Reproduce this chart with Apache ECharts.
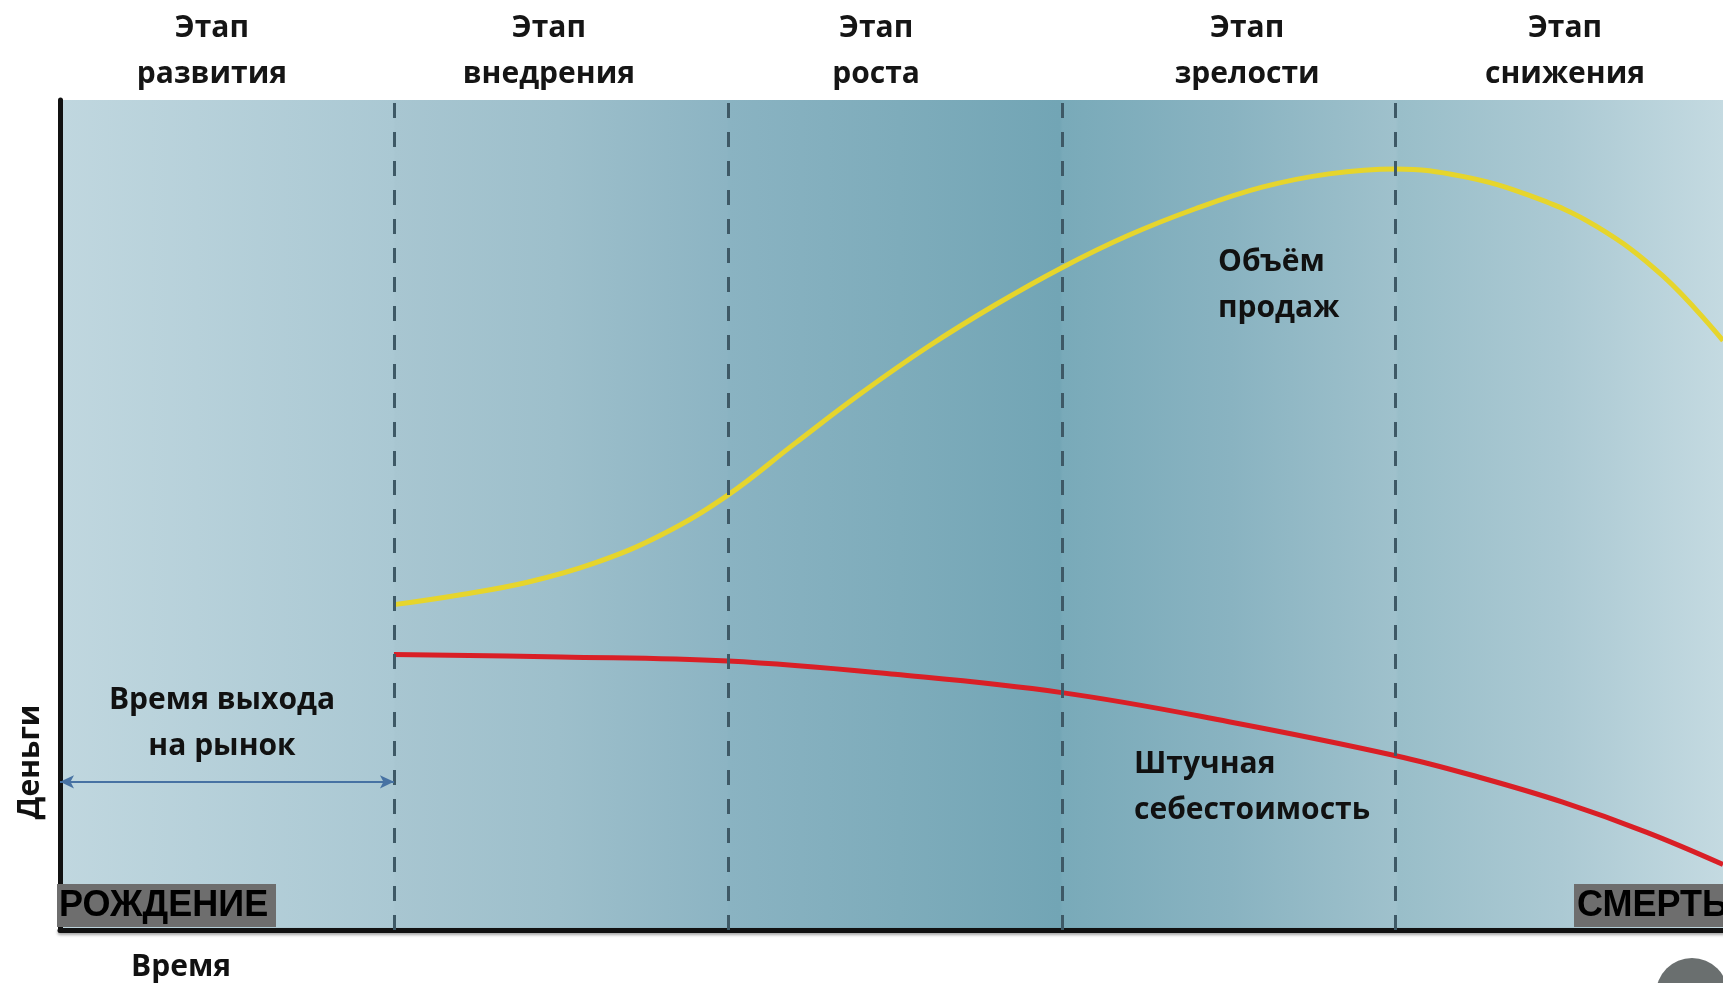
<!DOCTYPE html>
<html>
<head>
<meta charset="utf-8">
<style>
  html, body { margin: 0; padding: 0; background: #ffffff; }
  #chart { width: 1723px; height: 983px; }
</style>
<script src="https://cdn.jsdelivr.net/npm/echarts@6.0.0/dist/echarts.min.js"></script>
</head>
<body>
<div id="chart"></div>
<script>
// этапы жизненного цикла
const stageNames = ["Этап\nразвития", "Этап\nвнедрения", "Этап\nроста", "Этап\nзрелости", "Этап\nснижения"];
const stageBounds = [1, 2, 3, 4];

// объём продаж (жёлтая кривая)
const salesTime = [1.0, 1.2, 1.4, 1.6, 1.8, 2.0, 2.2, 2.4, 2.6, 2.8, 3.0, 3.2, 3.4, 3.6, 3.8, 4.0, 4.2, 4.4, 4.6, 4.8, 4.98];
const salesVolume = [39.2, 40.4, 41.9, 44.2, 47.6, 52.4, 58.6, 64.7, 70.3, 75.3, 79.8, 83.7, 86.9, 89.5, 91.1, 91.7, 90.8, 88.5, 84.8, 78.8, 71.0];

// штучная себестоимость (красная кривая)
const costTime = [1.0, 1.5, 2.0, 2.5, 3.0, 3.5, 4.0, 4.25, 4.5, 4.75, 4.98];
const unitCost = [33.2, 32.9, 32.4, 30.8, 28.6, 25.1, 21.0, 18.4, 15.4, 11.8, 7.9];

// время выхода на рынок
const launchSpan = [0, 1];
const launchLevel = 17.85;

const chart = echarts.init(document.getElementById("chart"));

// где стоят подписи этапов над графиком
const stageLabelAt = [0.455, 1.464, 2.444, 3.555, 4.507];
const FONT = "Open Sans";
const bold = (size) => "bold " + size + "px '" + FONT + "'";

const toPairs = (xs, ys) => xs.map((x, i) => [x, ys[i]]);

// фон: столбцы этапов с градиентом
const bg = new echarts.graphic.LinearGradient(0, 0, 1, 0, [
  { offset: 0, color: "#c0d7df" },
  { offset: 0.2008, color: "#aac8d3" },
  { offset: 0.2014, color: "#a8c6d1" },
  { offset: 0.3, color: "#9dbfcb" },
  { offset: 0.401, color: "#8cb4c3" },
  { offset: 0.402, color: "#8ab3c2" },
  { offset: 0.505, color: "#7eacbb" },
  { offset: 0.601, color: "#72a5b5" },
  { offset: 0.603, color: "#79aab9" },
  { offset: 0.704, color: "#89b3c1" },
  { offset: 0.803, color: "#9fc1cc" },
  { offset: 0.805, color: "#99bec9" },
  { offset: 0.902, color: "#abc9d3" },
  { offset: 1, color: "#c4dae1" }
]);

const option = {
  animation: false,
  backgroundColor: "#ffffff",
  grid: {
    left: 60,
    right: 0,
    top: 100,
    bottom: 53,
    show: true,
    borderWidth: 0,
    backgroundColor: bg
  },
  xAxis: [
    {
      type: "value",
      min: 0,
      max: 4.98,
      axisLine: {
        show: true,
        onZero: false,
        lineStyle: { color: "#111111", width: 5, shadowColor: "rgba(0,0,0,0.35)", shadowBlur: 3, shadowOffsetY: 2 }
      },
      axisTick: { show: false },
      axisLabel: { show: false },
      splitLine: { show: false }
    },
    {
      type: "value",
      position: "top",
      min: 0,
      max: 4.98,
      axisLine: { show: false },
      axisTick: { show: false },
      splitLine: { show: false },
      axisLabel: {
        customValues: stageLabelAt,
        formatter: function (v) {
          let best = 0;
          stageLabelAt.forEach((p, i) => {
            if (Math.abs(p - v) < Math.abs(stageLabelAt[best] - v)) best = i;
          });
          return stageNames[best];
        },
        fontFamily: FONT,
        fontWeight: "bold",
        fontSize: 30,
        lineHeight: 46,
        color: "#151515",
        margin: 3
      }
    }
  ],
  yAxis: {
    type: "value",
    min: 0,
    max: 100,
    axisLine: { show: true, lineStyle: { color: "#111111", width: 5 } },
    axisTick: { show: false },
    axisLabel: { show: false },
    splitLine: { show: false }
  },
  series: [
    {
      name: "Объём продаж",
      type: "line",
      data: toPairs(salesTime, salesVolume),
      smooth: 0.4,
      symbol: "none",
      lineStyle: { color: "#e6d52c", width: 5 },
      z: 3,
      markLine: {
        silent: true,
        symbol: ["none", "none"],
        label: { show: false },
        lineStyle: { color: "#3e5966", width: 3, type: [15, 14] },
        data: stageBounds.map((v) => ({ xAxis: v }))
      }
    },
    {
      name: "Штучная себестоимость",
      type: "line",
      data: toPairs(costTime, unitCost),
      smooth: 0.4,
      symbol: "none",
      lineStyle: { color: "#d91f26", width: 5 },
      z: 3,
      markLine: {
        silent: true,
        symbol: ["arrow", "arrow"],
        symbolSize: [10, 14],
        label: { show: false },
        lineStyle: { color: "#4772a3", width: 2, type: "solid" },
        data: [[{ coord: [launchSpan[0], launchLevel] }, { coord: [launchSpan[1], launchLevel] }]]
      }
    }
  ],
  graphic: [
    {
      type: "text", x: 1218, y: 285, z: 10,
      style: { text: "Объём\nпродаж", font: bold(30), lineHeight: 46, fill: "#111", textAlign: "left", textVerticalAlign: "middle" }
    },
    {
      type: "text", x: 1134, y: 787, z: 10,
      style: { text: "Штучная\nсебестоимость", font: bold(30), lineHeight: 46, fill: "#111", textAlign: "left", textVerticalAlign: "middle" }
    },
    {
      type: "text", x: 222, y: 723, z: 10,
      style: { text: "Время выхода\nна рынок", font: bold(30), lineHeight: 46, fill: "#111", textAlign: "center", textVerticalAlign: "middle" }
    },
    {
      type: "text", x: 30, y: 762, rotation: Math.PI / 2, z: 10,
      style: { text: "Деньги", font: bold(30), fill: "#111", textAlign: "center", textVerticalAlign: "middle" }
    },
    {
      type: "text", x: 181, y: 967, z: 10,
      style: { text: "Время", font: bold(30), fill: "#111", textAlign: "center", textVerticalAlign: "middle" }
    },
    // РОЖДЕНИЕ
    { type: "rect", z: 10, shape: { x: 57, y: 884, width: 219, height: 43 }, style: { fill: "#6e6e6e" } },
    {
      type: "text", x: 59, y: 906, z: 11,
      style: { text: "РОЖДЕНИЕ", font: "bold 36px 'Liberation Sans'", fill: "#000", textAlign: "left", textVerticalAlign: "middle" }
    },
    // СМЕРТЬ
    { type: "rect", z: 10, shape: { x: 1574, y: 884, width: 160, height: 43 }, style: { fill: "#6e6e6e" } },
    {
      type: "text", x: 1577, y: 906, z: 11,
      style: { text: "СМЕРТЬ", font: "bold 36px 'Liberation Sans'", fill: "#000", textAlign: "left", textVerticalAlign: "middle" }
    },
    // эмблема в углу
    { type: "circle", z: 10, shape: { cx: 1692, cy: 994, r: 36 }, style: { fill: "#6a6f6f" } }
  ]
};

chart.setOption(option);
</script>
</body>
</html>
